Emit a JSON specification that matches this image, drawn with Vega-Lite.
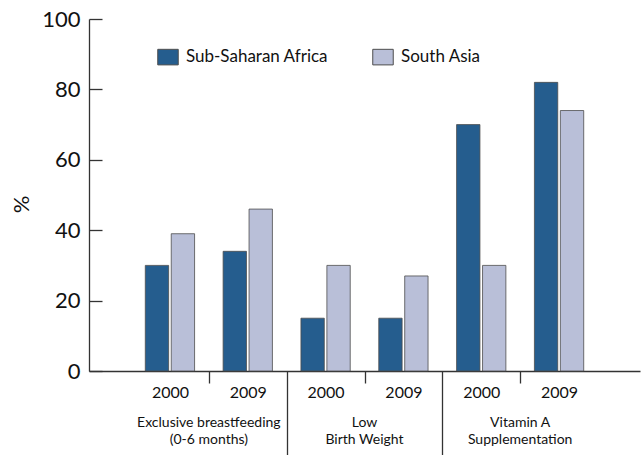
{
  "$schema": "https://vega.github.io/schema/vega-lite/v6.json",
  "width": 551,
  "height": 352,
  "autosize": {"type": "none"},
  "padding": {"left": 89, "top": 19, "right": 4, "bottom": 84},
  "config": {"font": "Lato", "view": {"stroke": null}, "axis": {"grid": false}},
  "layer": [
    {
      "data": {"values": [
        {"slot": "Exclusive breastfeeding|2000", "region": "Sub-Saharan Africa", "value": 30},
        {"slot": "Exclusive breastfeeding|2000", "region": "South Asia", "value": 39},
        {"slot": "Exclusive breastfeeding|2009", "region": "Sub-Saharan Africa", "value": 34},
        {"slot": "Exclusive breastfeeding|2009", "region": "South Asia", "value": 46},
        {"slot": "Low Birth Weight|2000", "region": "Sub-Saharan Africa", "value": 15},
        {"slot": "Low Birth Weight|2000", "region": "South Asia", "value": 30},
        {"slot": "Low Birth Weight|2009", "region": "Sub-Saharan Africa", "value": 15},
        {"slot": "Low Birth Weight|2009", "region": "South Asia", "value": 27},
        {"slot": "Vitamin A Supplementation|2000", "region": "Sub-Saharan Africa", "value": 70},
        {"slot": "Vitamin A Supplementation|2000", "region": "South Asia", "value": 30},
        {"slot": "Vitamin A Supplementation|2009", "region": "Sub-Saharan Africa", "value": 82},
        {"slot": "Vitamin A Supplementation|2009", "region": "South Asia", "value": 74}
      ]},
      "mark": {"type": "bar", "stroke": "#4d4d4d", "strokeWidth": 0.8},
      "encoding": {
        "x": {
          "field": "slot", "type": "nominal", "sort": null,
          "scale": {"domain": ["Exclusive breastfeeding|2000", "Exclusive breastfeeding|2009", "Low Birth Weight|2000", "Low Birth Weight|2009", "Vitamin A Supplementation|2000", "Vitamin A Supplementation|2009"], "paddingInner": 0, "paddingOuter": 0.54},
          "axis": {
            "title": null,
            "labelExpr": "split(datum.value, '|')[1]",
            "labelAngle": 0, "labelFontSize": 16, "labelColor": "#111", "labelOverlap": false,
            "labelPadding": {"condition": {"test": "datum.value === 'Exclusive breastfeeding|2009' || datum.value === 'Low Birth Weight|2009'", "value": -71}, "value": 1},
            "tickBand": "extent", "tickColor": "#333", "tickWidth": 1.3,
            "tickSize": {"condition": {"test": "datum.value === 'Exclusive breastfeeding|2009' || datum.value === 'Low Birth Weight|2009'", "value": 84}, "value": 12},
            "tickOpacity": {"condition": {"test": "!datum.value || datum.value === 'Vitamin A Supplementation|2009'", "value": 0}, "value": 1},
            "domainColor": "#333", "domainWidth": 1.3
          }
        },
        "xOffset": {"field": "region", "type": "nominal", "sort": ["Sub-Saharan Africa", "South Asia"], "scale": {"paddingInner": 0.1, "paddingOuter": 0.55}},
        "y": {
          "field": "value", "type": "quantitative",
          "scale": {"domain": [0, 100]},
          "axis": {
            "title": "%", "titleFontSize": 22, "titleFontWeight": "normal", "titleColor": "#111", "titlePadding": 8, "titleY": 185,
            "values": [0, 20, 40, 60, 80, 100],
            "labelFontSize": 22, "labelColor": "#111", "labelPadding": 22,
            "tickSize": -13, "tickColor": "#333", "tickWidth": 1.3,
            "domainColor": "#333", "domainWidth": 1.3
          }
        },
        "color": {
          "field": "region", "type": "nominal", "sort": ["Sub-Saharan Africa", "South Asia"],
          "scale": {"domain": ["Sub-Saharan Africa", "South Asia"], "range": ["#255d8e", "#b9bfd8"]},
          "legend": {
            "title": null, "orient": "none", "legendX": 68, "legendY": 27, "direction": "horizontal",
            "symbolType": "M-1,-0.76H1V0.76H-1Z", "symbolSize": 420, "symbolStrokeColor": "#4d4d4d", "symbolStrokeWidth": 1,
            "labelFontSize": 17, "labelColor": "#111", "labelOffset": 7, "columnPadding": 41
          }
        }
      }
    },
    {
      "data": {"values": [
        {"slot": "Exclusive breastfeeding|2009", "label": "Exclusive breastfeeding\n(0-6 months)"},
        {"slot": "Low Birth Weight|2009", "label": "Low\nBirth Weight"},
        {"slot": "Vitamin A Supplementation|2009", "label": "Vitamin A\nSupplementation"}
      ]},
      "mark": {"type": "text", "fontSize": 14, "lineHeight": 17, "lineBreak": "\n", "align": "center", "baseline": "alphabetic", "color": "#111"},
      "encoding": {
        "x": {"field": "slot", "type": "nominal", "bandPosition": 0},
        "y": {"datum": -15.8, "type": "quantitative"},
        "text": {"field": "label"}
      }
    },
    {
      "mark": {"type": "rule", "color": "#333", "strokeWidth": 1.3},
      "encoding": {
        "x": {"value": "width"},
        "y": {"datum": 0, "type": "quantitative"},
        "y2": {"datum": 3}
      }
    }
  ]
}
